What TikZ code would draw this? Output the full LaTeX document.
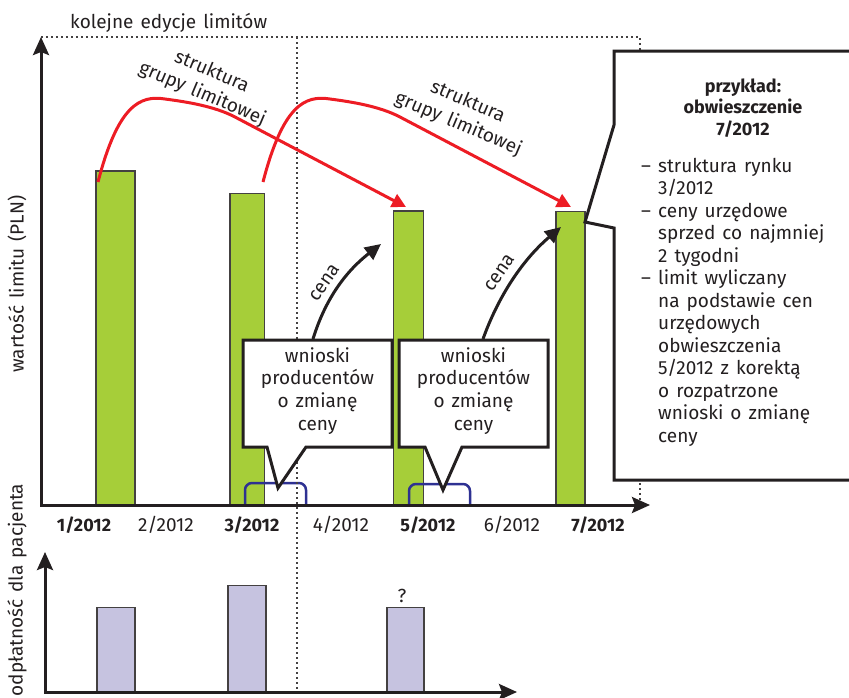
\documentclass[tikz,border=0pt]{standalone}
\usepackage{fontspec}
\setmainfont{Fira Sans}[WordSpace=1.4]
\usetikzlibrary{arrows.meta}
\definecolor{barg}{HTML}{A6CE39}
\definecolor{barl}{HTML}{C6C3E0}
\definecolor{redc}{HTML}{ED1C24}
\definecolor{bluec}{HTML}{2E3192}
\definecolor{txt}{HTML}{231F20}
\begin{document}
\begin{tikzpicture}[x=1pt,y=-1pt,
  lbl/.style={font=\fontsize{19}{22}\selectfont, text=txt, inner sep=0pt},
  mb/.style={lbl, font=\fontsize{18}{22}\selectfont\bfseries},
  axisline/.style={draw=txt, line width=3pt, line join=miter,
     {Stealth[length=18pt,width=16pt,inset=3pt]}-{Stealth[length=18pt,width=16pt,inset=3pt]}},
  dotline/.style={draw=txt!85, line width=1.6pt, dash pattern=on 2pt off 3pt},
  gbar/.style={draw=txt!85, line width=1.5pt, fill=barg, inner sep=0pt, anchor=south west},
  lbar/.style={draw=txt!85, line width=1.5pt, fill=barl, inner sep=0pt, anchor=south west},
  redarr/.style={draw=redc, line width=3pt, -{Triangle[length=14pt,width=14pt]}},
  blkarr/.style={draw=txt, line width=3pt, -{Triangle[length=16pt,width=15pt]}},
  callout/.style={draw=txt, line width=3pt, fill=white, line join=miter},
  bracket/.style={draw=bluec, line width=2.5pt, rounded corners=7pt}
]
\useasboundingbox (0,0) rectangle (849,697);
\begin{scope}
\clip (0,0) rectangle (849,697);

% green bars (upper chart)
\node[gbar, minimum width=39pt, minimum height=333.5pt] (b1) at (95,505) {};
\node[gbar, minimum width=34.5pt, minimum height=311pt] (b2) at (229,505) {};
\node[gbar, minimum width=30pt, minimum height=293.5pt] (b3) at (392.5,505) {};
\node[gbar, minimum width=29pt, minimum height=293pt] (b4) at (555,505) {};

% lavender bars (lower chart)
\node[lbar, minimum width=38pt, minimum height=84pt] (l1) at (96,692) {};
\node[lbar, minimum width=38pt, minimum height=106pt] (l2) at (227,692) {};
\node[lbar, minimum width=37pt, minimum height=84pt] (l3) at (386,692) {};

% blue brackets
\draw[bracket] (245,505) -- (245,483) -- (306,483) -- (306,505);
\draw[bracket] (409,505) -- (409,484) -- (470,484) -- (470,505);

% dotted lines
\draw[dotline] (41,37) -- (640,37) -- (640,500);
\draw[dotline] (297,37) -- (297,692);

% axes
\coordinate (ytop) at (41,37);
\coordinate (orig) at (41,505);
\coordinate (xend) at (650,505);
\draw[axisline] (ytop) -- (orig) -- (xend);
\coordinate (ytop2) at (45,552);
\coordinate (orig2) at (45,692);
\coordinate (xend2) at (517,692);
\draw[axisline] (ytop2) -- (orig2) -- (xend2);

% callout boxes
\draw[callout] (243,340) -- (392,340) -- (392,447) -- (306,447) -- (278,488) -- (267,447) -- (243,447) -- cycle;
\draw[callout] (399,340) -- (548,340) -- (548,447) -- (462,447) -- (443,490) -- (425,447) -- (399,447) -- cycle;
\draw[callout] (614,51) -- (875,51) -- (875,480) -- (614,480) -- (614,228) -- (585,222) -- (614,125) -- cycle;

% red arrows
\coordinate (r1s) at (98,182);
\coordinate (r1e) at (406,207);
\coordinate (r2s) at (263,182);
\coordinate (r2e) at (571,207);
\draw[redarr] (r1s) .. controls (118,105) and (140,95) .. (165,99)
   .. controls (188,102) and (215,106.5) .. (235,117) -- (r1e);
\draw[redarr] (r2s) .. controls (283,105) and (305,95) .. (330,99)
   .. controls (353,102) and (380,106.5) .. (400,117) -- (r2e);

% black arrows
\coordinate (c1s) at (313,339);
\coordinate (c1e) at (381,244);
\coordinate (c2s) at (483,339);
\coordinate (c2e) at (561,227);
\draw[blkarr] (c1s) .. controls (325,300) and (345,272) .. (c1e);
\draw[blkarr] (c2s) .. controls (497,300) and (520,262) .. (c2e);

% texts
\node[lbl, anchor=base west] (title) at (70,28) {kolejne edycje limitów};
\node[lbl, rotate=90] (ylab) at (17,284) {wartość limitu (PLN)};
\node[lbl, rotate=90] (ylab2) at (17,590) {odpłatność dla pacjenta};
\node[lbl, align=center, rotate=-23, font=\fontsize{19}{24}\selectfont] (s1) at (207,83) {struktura\\grupy limitowej};
\node[lbl, align=center, rotate=-23, font=\fontsize{19}{24}\selectfont] (s2) at (463,113) {struktura\\grupy limitowej};
\node[lbl, rotate=55] (cena1) at (325,283) {cena};
\node[lbl, rotate=55] (cena2) at (500,273) {cena};
\node[lbl, anchor=base] (q) at (402,602) {?};

\node[mb, anchor=base] (m1) at (84,531) {1/2012};
\node[lbl, anchor=base] (m2) at (166,531) {2/2012};
\node[mb, anchor=base] (m3) at (252,531) {3/2012};
\node[lbl, anchor=base] (m4) at (341,531) {4/2012};
\node[mb, anchor=base] (m5) at (428,531) {5/2012};
\node[lbl, anchor=base] (m6) at (512,531) {6/2012};
\node[mb, anchor=base] (m7) at (598,531) {7/2012};

\foreach \t [count=\i] in {wnioski, producentów, o zmianę, ceny} {
  \node[lbl, anchor=base, name=wa\i] at ({317.5},{362+22.7*(\i-1)}) {\t};
  \node[lbl, anchor=base, name=wb\i] at ({473.5},{362+22.7*(\i-1)}) {\t};
}

\node[mb, anchor=base] (p1) at (743,92) {przykład:};
\node[mb, anchor=base] (p2) at (743,113.5) {obwieszczenie};
\node[mb, anchor=base] (p3) at (743,135) {7/2012};

\foreach \t [count=\i] in {struktura rynku, 3/2012, ceny urzędowe, sprzed co najmniej, 2 tygodni, limit wyliczany, na podstawie cen, urzędowych, obwieszczenia, 5/2012 z korektą, o rozpatrzone, wnioski o zmianę, ceny} {
  \node[lbl, anchor=base west, name=bl\i] at ({658},{172+22.5*(\i-1)}) {\t};
}
\foreach \i in {1,3,6} {
  \node[lbl, anchor=base west, name=bd\i] at ({641},{172+22.5*(\i-1)}) {–};
}
\end{scope}
\end{tikzpicture}
\end{document}
